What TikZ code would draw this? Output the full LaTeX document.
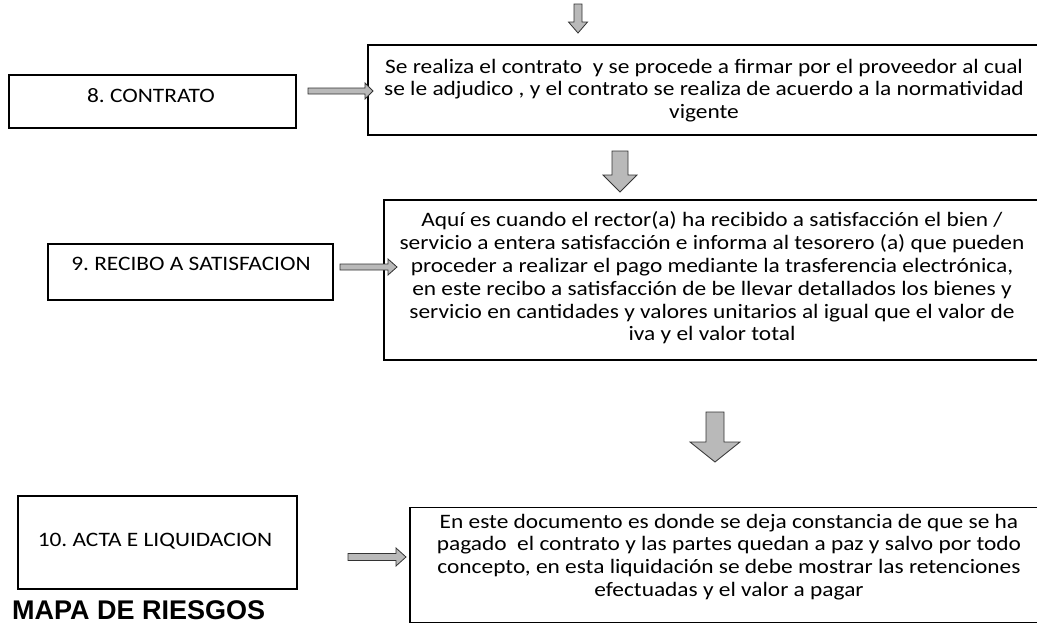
\documentclass[tikz,border=0pt]{standalone}
\usepackage{fontspec}
\setmainfont{Carlito}
\newfontfamily\bodyfont{Carlito}[FakeStretch=1.14]
\newfontfamily\arialfont{Liberation Sans}
\usetikzlibrary{calc}
\frenchspacing
\tikzset{
  lbox/.style={draw=black, line width=1.1pt, rectangle, inner sep=0pt},
  dbox/.style={draw=black, line width=1.1pt, rectangle, inner sep=0pt},
  ltext/.style={inner sep=0pt, font=\frenchspacing\bodyfont\fontsize{20.5}{22.8}\selectfont},
  dtext/.style={inner sep=0pt, align=center, font=\frenchspacing\bodyfont\fontsize{20.5}{22.8}\selectfont},
  blockarrow/.style={fill=gray!55, draw=black!80, line width=0.8pt, line join=miter},
}
\newcommand{\myvarrow}[5]{\draw[blockarrow] ($(#1)+(-#3,0)$) -- ($(#2)+(-#3,-#5)$) -- ($(#2)+(-#4,-#5)$) -- (#2) -- ($(#2)+(#4,-#5)$) -- ($(#2)+(#3,-#5)$) -- ($(#1)+(#3,0)$) -- cycle;}
\newcommand{\myharrow}[5]{\draw[blockarrow] ($(#1)+(0,-#3)$) -- ($(#2)+(-#5,-#3)$) -- ($(#2)+(-#5,-#4)$) -- (#2) -- ($(#2)+(-#5,#4)$) -- ($(#2)+(-#5,#3)$) -- ($(#1)+(0,#3)$) -- cycle;}
\begin{document}
\begin{tikzpicture}[x=1pt,y=-1pt]
\useasboundingbox (0,0) rectangle (1037,624);
% label boxes
\node[lbox, minimum width=287pt, minimum height=53pt] (b8) at (152.5,101.5) {};
\node[ltext] (b8t) at (151,96) {8. CONTRATO};
\node[lbox, minimum width=285pt, minimum height=56pt] (b9) at (190.5,272) {};
\node[ltext] (b9t) at (191,264) {9. RECIBO A SATISFACION};
\node[lbox, minimum width=279pt, minimum height=93pt] (b10) at (157.5,542.5) {};
\node[ltext] (b10t) at (155,541) {10. ACTA E LIQUIDACION};
% description boxes (extend beyond right edge)
\node[dbox, minimum width=680pt, minimum height=90pt] (d8) at (708,90) {};
\node[dtext] (d8t) at (704,90.5) {Se realiza el contrato~ y se procede a firmar por el proveedor al cual\\ se le adjudico , y el contrato se realiza de acuerdo a la normatividad\\ vigente};
\node[dbox, minimum width=664pt, minimum height=160pt] (d9) at (716,280) {};
\node[dtext] (d9t) at (712,278) {Aquí es cuando el rector(a) ha recibido a satisfacción el bien /\\ servicio a entera satisfacción e informa al tesorero (a) que pueden\\ proceder a realizar el pago mediante la trasferencia electrónica,\\ en este recibo a satisfacción de be llevar detallados los bienes y\\ servicio en cantidades y valores unitarios al igual que el valor de\\ iva y el valor total};
\node[dbox, minimum width=636pt, minimum height=115pt] (d10) at (728,565) {};
\node[dtext] (d10t) at (729,557) {En este documento es donde se deja constancia de que se ha\\ pagado~ el contrato y las partes quedan a paz y salvo por todo\\ concepto, en esta liquidación se debe mostrar las retenciones\\ efectuadas y el valor a pagar};
% title
\node[inner sep=0pt, anchor=base west, font=\arialfont\bfseries\fontsize{27}{30}\selectfont] (title) at (12,619) {MAPA DE RIESGOS};
% arrow coordinates
\coordinate (a1s) at (578,4);   \coordinate (a1e) at (578,33);
\coordinate (a2s) at (620,151); \coordinate (a2e) at (620,192);
\coordinate (a3s) at (715,412); \coordinate (a3e) at (715,462);
\coordinate (r8s) at (308,91);  \coordinate (r8e) at (373,91);
\coordinate (r9s) at (340,267); \coordinate (r9e) at (397,267);
\coordinate (r10s) at (348,557); \coordinate (r10e) at (406,557);
\myvarrow{a1s}{a1e}{4}{9.5}{11}
\myvarrow{a2s}{a2e}{8}{17}{17}
\myvarrow{a3s}{a3e}{9}{25}{20}
\myharrow{r8s}{r8e}{3}{8}{8}
\myharrow{r9s}{r9e}{3}{8}{9}
\myharrow{r10s}{r10e}{3.5}{9}{10}
\end{tikzpicture}
\end{document}
